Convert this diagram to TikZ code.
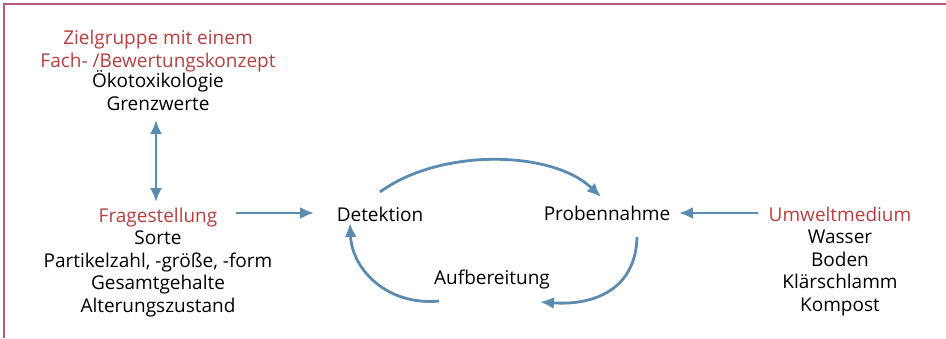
\documentclass[tikz,border=0pt]{standalone}
\usepackage{fontspec}
\setmainfont{Open Sans}
\usetikzlibrary{arrows.meta}
\definecolor{framec}{HTML}{B45A82}
\definecolor{arrc}{HTML}{5B8BAE}
\definecolor{redt}{HTML}{B5403F}
\begin{document}
\begin{tikzpicture}[x=1pt,y=-1pt,
  txt/.style={inner sep=0pt,align=center,anchor=base,font=\fontsize{19}{22.4}\selectfont},
  ttl/.style={txt,text=redt},
  tip/.tip={Latex[length=14pt,width=12pt]},
  conn/.style={draw=arrc,line width=2.8pt,-tip},
  dconn/.style={draw=arrc,line width=2.8pt,tip-tip}]
\useasboundingbox (0,0) rectangle (946,338);
\draw[framec,line width=1.5pt] (4,338) -- (4,4) -- (946,4);
% left column
\node[ttl] (zg) at (158,67) {Zielgruppe mit einem\\Fach- /Bewertungskonzept};
\node[txt] (zgl) at (158,110) {Ökotoxikologie\\Grenzwerte};
\node[ttl] (fr) at (158,222) {Fragestellung};
\node[txt] (frl) at (158,312) {Sorte\\Partikelzahl, -größe, -form\\Gesamtgehalte\\Alterungszustand};
% right column
\node[ttl] (um) at (840,221) {Umweltmedium};
\node[txt] (uml) at (840,311) {Wasser\\Boden\\Klärschlamm\\Kompost};
% cycle
\node[txt] (det) at (380,221) {Detektion};
\node[txt] (pro) at (607,220) {Probennahme};
\node[txt] (auf) at (492,284) {Aufbereitung};
% straight connectors
\coordinate (zgb) at (156,120);
\coordinate (frt) at (156,202);
\draw[dconn] (zgb) -- (frt);
\coordinate (fre) at (236,213);
\coordinate (detw) at (314,213);
\draw[conn] (fre) -- (detw);
\coordinate (umw) at (758,213);
\coordinate (proe) at (679,213);
\draw[conn] (umw) -- (proe);
% arcs
\coordinate (a1) at (380,192);
\coordinate (a2) at (601,197);
\coordinate (b1) at (637,237);
\coordinate (b2) at (540,302);
\coordinate (c1) at (439,301);
\coordinate (c2) at (350,223);
\draw[conn] (a1) .. controls (440,148) and (552,150) .. (a2);
\draw[conn] (b1) .. controls (636,285) and (600,306) .. (b2);
\draw[conn] (c1) .. controls (388,306) and (352,270) .. (c2);
\end{tikzpicture}
\end{document}
